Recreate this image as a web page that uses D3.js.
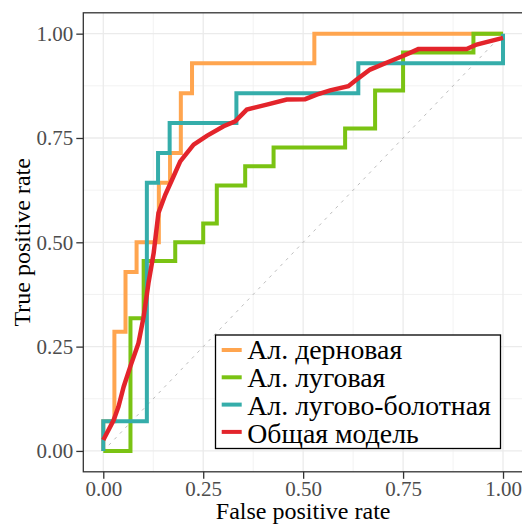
<!DOCTYPE html>
<html><head><meta charset="utf-8">
<script src="https://cdn.jsdelivr.net/npm/d3@7"></script>
<style>
html,body{margin:0;padding:0;background:#fff;}
svg{display:block;}
</style></head>
<body>
<svg id="chart" width="522" height="524"></svg>
<script>
// ---- data ----
const seriesNames = ["Ал. дерновая", "Ал. луговая", "Ал. лугово-болотная", "Общая модель"];
const seriesColors = ["#FFA54F", "#7AC313", "#35ADAA", "#E3242B"];
const tickValues = [0, 0.25, 0.5, 0.75, 1];
const tickLabels = ["0.00", "0.25", "0.50", "0.75", "1.00"];
const minorValues = [0.125, 0.375, 0.625, 0.875];
const xTitle = "False positive rate";
const yTitle = "True positive rate";

// [fpr, tpr]
const dernovaya = [[0,0],[0,0.0714],[0.0278,0.0714],[0.0278,0.2857],[0.0556,0.2857],[0.0556,0.4286],
  [0.0833,0.4286],[0.0833,0.5],[0.139,0.5],[0.139,0.643],[0.167,0.643],[0.167,0.714],[0.194,0.714],
  [0.194,0.857],[0.222,0.857],[0.222,0.929],[0.528,0.929],[0.528,1],[1,1]];
const lugovaya = [[0,0],[0.068,0],[0.068,0.318],[0.101,0.318],[0.101,0.455],[0.18,0.455],[0.18,0.5],
  [0.25,0.5],[0.25,0.545],[0.284,0.545],[0.284,0.636],[0.355,0.636],[0.355,0.682],[0.426,0.682],
  [0.426,0.727],[0.605,0.727],[0.605,0.773],[0.68,0.773],[0.68,0.864],[0.75,0.864],[0.75,0.955],
  [0.926,0.955],[0.926,1],[1,1]];
const bolotnaya = [[0,0],[0,0.0714],[0.109,0.0714],[0.109,0.643],[0.137,0.643],[0.137,0.714],
  [0.166,0.714],[0.166,0.786],[0.333,0.786],[0.333,0.857],[0.638,0.857],[0.638,0.929],[1,0.929],[1,1]];
const obshaya = [[0,0.026],[0.026,0.074],[0.038,0.106],[0.051,0.154],[0.0675,0.202],[0.088,0.258],
  [0.101,0.322],[0.113,0.402],[0.126,0.474],[0.138,0.570],[0.155,0.614],[0.172,0.650],[0.1925,0.694],
  [0.226,0.734],[0.259,0.755],[0.301,0.778],[0.33,0.79],[0.359,0.818],[0.409,0.830],[0.459,0.842],
  [0.505,0.843],[0.534,0.854],[0.5675,0.864],[0.613,0.874],[0.634,0.89],[0.6675,0.914],[0.7175,0.934],
  [0.751,0.947],[0.788,0.963],[0.909,0.963],[0.934,0.974],[1,0.99]];
const diagonal = [[0,0],[1,1]];
const seriesData = [dernovaya, lugovaya, bolotnaya, obshaya];

// ---- drawing ----
const svg = d3.select("#chart");
const font = "'Liberation Serif','Times New Roman',serif";
const L = 83.3, R = 523, T = 12.8, B = 471.8;
const x = d3.scaleLinear().domain([-0.05, 1.05]).range([L, R]);
const y = d3.scaleLinear().domain([-0.05, 1.05]).range([B, T]);

svg.append("rect").attr("width", 522).attr("height", 524).attr("fill", "#fff");

const grid = svg.append("g");
minorValues.forEach(v => {
  grid.append("line").attr("x1", x(v)).attr("x2", x(v)).attr("y1", T).attr("y2", B)
    .attr("stroke", "#efefef").attr("stroke-width", 0.8);
  grid.append("line").attr("y1", y(v)).attr("y2", y(v)).attr("x1", L).attr("x2", R)
    .attr("stroke", "#efefef").attr("stroke-width", 0.8);
});
tickValues.forEach(v => {
  grid.append("line").attr("x1", x(v)).attr("x2", x(v)).attr("y1", T).attr("y2", B)
    .attr("stroke", "#ebebeb").attr("stroke-width", 1.3);
  grid.append("line").attr("y1", y(v)).attr("y2", y(v)).attr("x1", L).attr("x2", R)
    .attr("stroke", "#ebebeb").attr("stroke-width", 1.3);
});

const line = d3.line().x(d => x(d[0])).y(d => y(d[1]));

svg.append("path").attr("d", line(diagonal)).attr("fill", "none")
  .attr("stroke", "#bdbdbd").attr("stroke-width", 1).attr("stroke-dasharray", "3,5");

seriesData.forEach((s, i) => {
  svg.append("path").attr("d", line(s)).attr("fill", "none")
    .attr("stroke", seriesColors[i]).attr("stroke-width", i === 3 ? 4.5 : 4)
    .attr("stroke-linejoin", "miter").attr("stroke-linecap", "butt");
});

// panel border
svg.append("rect").attr("x", L).attr("y", T).attr("width", R - L).attr("height", B - T)
  .attr("fill", "none").attr("stroke", "#333").attr("stroke-width", 1.3);

// axes
const fmt = (d) => tickLabels[tickValues.indexOf(d)];
const xAxis = svg.append("g").attr("transform", `translate(0,${B})`)
  .call(d3.axisBottom(x).tickValues(tickValues).tickFormat(fmt).tickSize(7).tickPadding(2));
const yAxis = svg.append("g").attr("transform", `translate(${L},0)`)
  .call(d3.axisLeft(y).tickValues(tickValues).tickFormat(fmt).tickSize(7).tickPadding(3));
[xAxis, yAxis].forEach(a => {
  a.select(".domain").remove();
  a.selectAll(".tick line").attr("stroke", "#333").attr("stroke-width", 1.3);
  a.selectAll(".tick text").attr("fill", "#4d4d4d").style("font-family", font).style("font-size", "21px");
});

svg.append("text").attr("x", (L + R) / 2).attr("y", 518.5).attr("text-anchor", "middle")
  .style("font-family", font).style("font-size", "24px").attr("fill", "#000").text(xTitle);
svg.append("text").attr("transform", `translate(30,${(T + B) / 2}) rotate(-90)`).attr("text-anchor", "middle")
  .style("font-family", font).style("font-size", "24px").attr("fill", "#000").text(yTitle);

// legend
const lg = svg.append("g");
lg.append("rect").attr("x", 215.5).attr("y", 335).attr("width", 285).attr("height", 113.5)
  .attr("fill", "#fff").attr("stroke", "#000").attr("stroke-width", 1.3);
seriesNames.forEach((n, i) => {
  const cy = 350 + i * 27.3;
  lg.append("line").attr("x1", 221.7).attr("x2", 241.7).attr("y1", cy).attr("y2", cy)
    .attr("stroke", seriesColors[i]).attr("stroke-width", 4);
  lg.append("text").attr("x", 247.3).attr("y", 358.5 + i * 28.2)
    .style("font-family", font).style("font-size", "27.8px").attr("fill", "#000").text(n);
});
</script>
</body></html>
